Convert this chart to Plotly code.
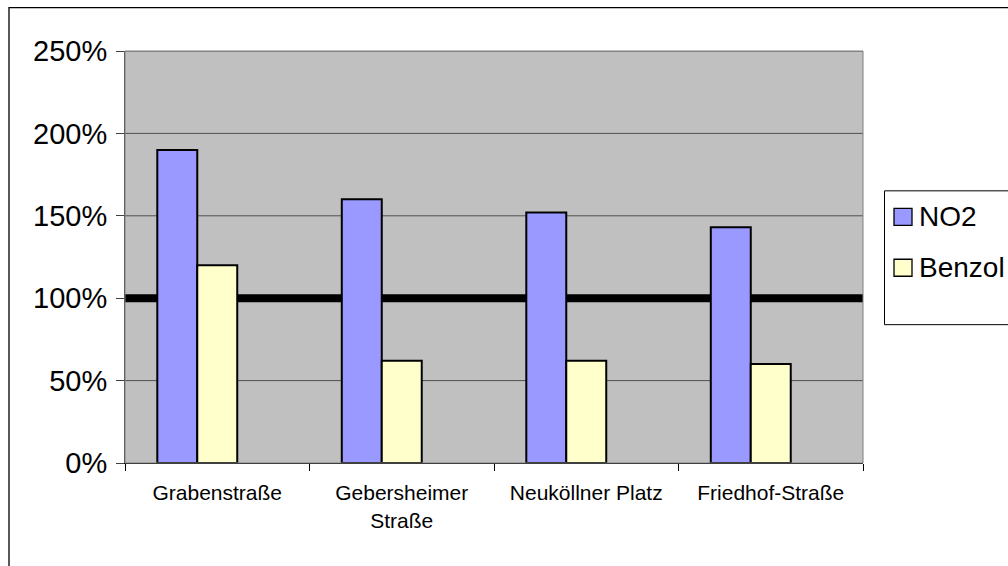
import plotly.graph_objects as go

# ---- data ----
categories = ["Grabenstraße", "Gebersheimer Straße", "Neuköllner Platz", "Friedhof-Straße"]
category_labels = ["Grabenstraße", "Gebersheimer<br>Straße", "Neuköllner Platz", "Friedhof-Straße"]
no2 = [1.90, 1.60, 1.52, 1.43]
benzol = [1.20, 0.62, 0.62, 0.60]
series_names = ["NO2", "Benzol"]
series_colors = ["#9999FF", "#FFFFCC"]
limit_value = 1.0
y_tick_values = [0, 0.5, 1.0, 1.5, 2.0, 2.5]
y_tick_labels = ["0%", "50%", "100%", "150%", "200%", "250%"]

W, H = 1008, 566
L, R, T, B = 125, 145, 51, 102.5
PW, PH = W - L - R, H - T - B

def px_x(x):
    return (x - L) / PW

def px_y(y):
    return 1 - (y - T) / PH

FONT = "Liberation Sans, Arial, sans-serif"

fig = go.Figure()
for name, vals, col in zip(series_names, [no2, benzol], series_colors):
    fig.add_trace(go.Bar(
        x=categories, y=vals, name=name,
        marker=dict(color=col, line=dict(color="black", width=2)),
        showlegend=False,
    ))
# empty third series slot (as in the original chart)
fig.add_trace(go.Bar(x=categories, y=[None] * len(categories), name=" ",
                     showlegend=False, hoverinfo="skip"))

shapes = []
# gridlines (as shapes so the limit line can sit above them but beneath the bars)
for v in y_tick_values[1:]:
    shapes.append(dict(type="line", xref="paper", yref="y", x0=0, x1=1, y0=v, y1=v,
                       line=dict(color="#505050", width=1), layer="between"))
# limit line at 100%
shapes.append(dict(type="line", xref="paper", yref="y", x0=0, x1=1,
                   y0=limit_value, y1=limit_value,
                   line=dict(color="black", width=8), layer="between"))
# plot area border (gray)
shapes.append(dict(type="rect", xref="paper", yref="paper", x0=0, x1=1, y0=0, y1=1,
                   line=dict(color="#808080", width=1), layer="above"))
# outer chart border
shapes.append(dict(type="rect", xref="paper", yref="paper",
                   x0=px_x(9), x1=px_x(1030), y0=px_y(590), y1=px_y(7.5),
                   line=dict(color="black", width=1.3)))
# legend box
shapes.append(dict(type="rect", xref="paper", yref="paper",
                   x0=px_x(884.5), x1=px_x(1040), y0=px_y(325), y1=px_y(191),
                   line=dict(color="black", width=1)))
annotations = []
legend_centers = [217, 268]
for name, col, cy in zip(series_names, series_colors, legend_centers):
    shapes.append(dict(type="rect", xref="paper", yref="paper",
                       x0=px_x(894), x1=px_x(912), y0=px_y(cy + 8.5), y1=px_y(cy - 8.5),
                       fillcolor=col, line=dict(color="black", width=1.3)))
    annotations.append(dict(xref="paper", yref="paper", x=px_x(917), y=px_y(cy),
                            text=name, showarrow=False, xanchor="left", yanchor="middle",
                            font=dict(family=FONT, size=28, color="black")))

fig.update_layout(
    width=W, height=H,
    margin=dict(l=L, r=R, t=T, b=B, pad=0),
    paper_bgcolor="white",
    plot_bgcolor="#C0C0C0",
    barmode="group",
    bargap=0.35,
    bargroupgap=0,
    showlegend=False,
    shapes=shapes,
    annotations=annotations,
    font=dict(family=FONT, color="black"),
)
fig.update_xaxes(
    type="category",
    tickvals=categories, ticktext=category_labels,
    tickson="boundaries",
    ticks="outside", ticklen=7, tickcolor="black", tickwidth=1,
    showline=True, linecolor="black", linewidth=1,
    showgrid=False,
    tickfont=dict(family=FONT, size=21, color="black"),
    ticklabelstandoff=11,
)
fig.update_yaxes(
    range=[0, 2.5],
    tickvals=y_tick_values, ticktext=y_tick_labels,
    ticks="outside", ticklen=8, tickcolor="#404040", tickwidth=1,
    showline=True, linecolor="#404040", linewidth=1,
    showgrid=False,
    zeroline=False,
    tickfont=dict(family=FONT, size=29, color="black"),
    ticklabelstandoff=3,
)

fig.write_html(
    "out.html",
    config={"displayModeBar": False},
    post_script="document.body.style.margin='0';document.body.style.overflow='hidden';",
)
